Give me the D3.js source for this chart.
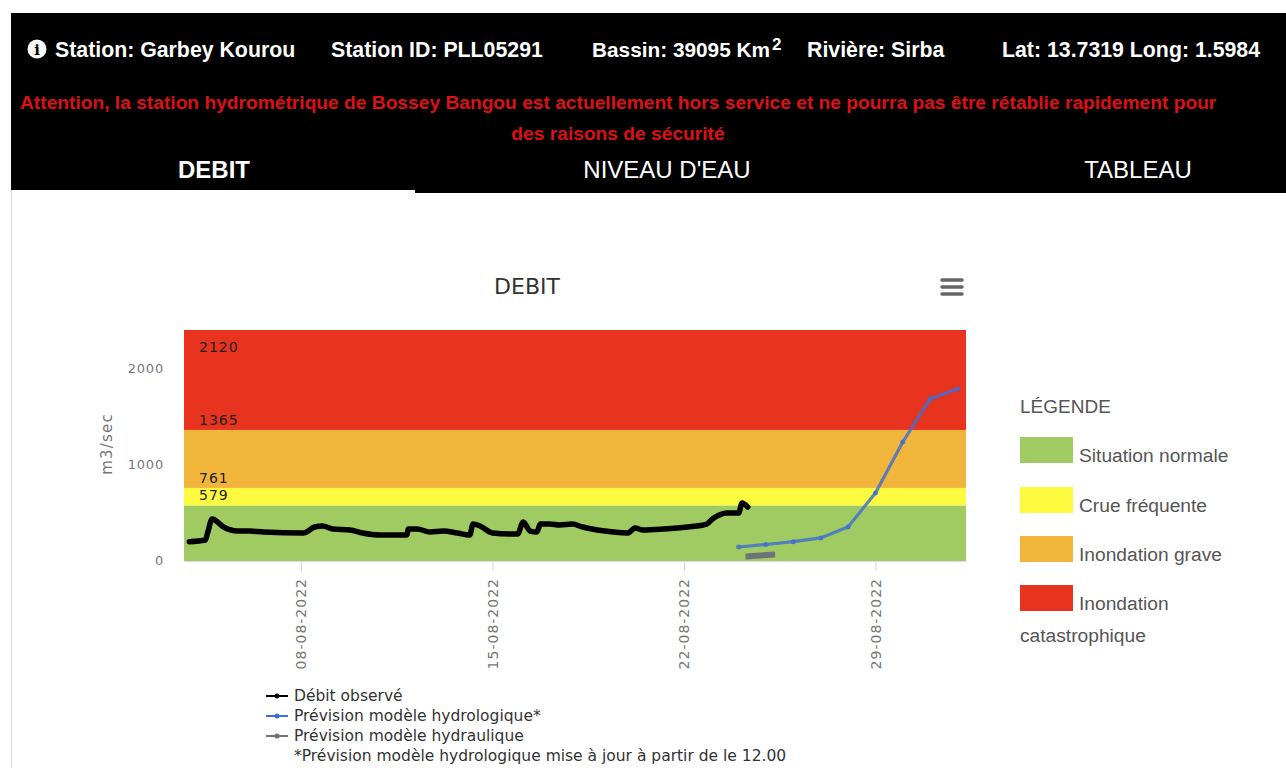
<!DOCTYPE html>
<html><head><meta charset="utf-8">
<script src="https://cdnjs.cloudflare.com/ajax/libs/d3/7.8.5/d3.min.js"></script>
<style>html,body{margin:0;padding:0;background:#fff;overflow:hidden}svg{display:block}</style>
</head><body><svg id="c" width="1286" height="768"></svg>
<script>
const thresholds=[579,761,1365,2120];
const bandColors=["#a0cb62","#fdfb40","#f2b53b","#e8331f"];
const bandNames=["Situation normale","Crue fréquente","Inondation grave","Inondation"];
const xTicks=["2022-08-08","2022-08-15","2022-08-22","2022-08-29"];
const yTicks=[0,1000,2000];
const obsTimes=["08-03T22","08-04T12","08-04T14","08-04T18","08-05T04","08-05T16","08-06T03","08-06T15","08-08T02","08-08T12","08-08T19","08-09T04","08-09T19","08-10T06","08-10T21","08-11T21","08-11T22","08-12T06","08-12T17","08-13T05","08-13T17","08-14T04","08-14T07","08-14T13","08-15T00","08-15T15","08-15T22","08-16T03","08-16T09","08-16T15","08-16T18","08-17T02","08-17T11","08-17T22","08-18T07","08-18T20","08-19T10","08-19T23","08-20T05","08-20T12","08-21T06","08-22T03","08-22T20","08-23T01","08-23T14","08-24T00","08-24T03","08-24T08"];
const obsValues=[201,219,292,437,354,312,312,302,292,354,365,333,323,292,271,271,333,333,302,312,292,271,385,365,292,281,281,406,312,302,385,385,375,385,354,323,302,292,344,323,333,354,385,437,500,500,604,562];
const hydroTimes=["08-24T00","08-25T00","08-26T00","08-27T00","08-28T00","08-29T00","08-30T00","08-31T00","09-01T00"];
const hydroValues=[146,172,201,240,354,708,1240,1688,1792];
const hydrauTimes=["08-24T06","08-25T08"];
const hydrauValues=[47,68];
const legendNames=["Débit observé","Prévision modèle hydrologique*","Prévision modèle hydraulique"];
const legendNote="*Prévision modèle hydrologique mise à jour à partir de le 12.00";
const legendColors=["#000000","#3f6fd0","#70727a"];

const parse=s=>new Date("2022-"+s+":00:00Z");
const px=d3.scaleUtc().domain([new Date("2022-08-03T17:18:00Z"),new Date("2022-09-01T07:30:00Z")]).range([184,966]);
const py=d3.scaleLinear().domain([0,2406]).range([561,330]);
const svg=d3.select("#c");
const ARIAL="'Liberation Sans',Arial,sans-serif", VERD="'DejaVu Sans',Verdana,sans-serif";

// header
svg.append("rect").attr("x",11).attr("y",13).attr("width",1275).attr("height",180).attr("fill","#000");
svg.append("rect").attr("x",11).attr("y",190).attr("width",404).attr("height",3).attr("fill","#fff");
svg.append("line").attr("x1",11.5).attr("x2",11.5).attr("y1",190).attr("y2",768).attr("stroke","#d8d8d8");
svg.append("circle").attr("cx",37).attr("cy",49).attr("r",9.5).attr("fill","#fff");
svg.append("text").attr("x",37).attr("y",55).attr("text-anchor","middle").attr("font-family","'DejaVu Serif',serif").attr("font-weight","bold").attr("font-size",15).attr("fill","#000").text("i");
const head=[["Station: Garbey Kourou",55,21.3],["Station ID: PLL05291",331,21.3],["Bassin: 39095 Km",592,20.8],["Rivière: Sirba",807,21.3],["Lat: 13.7319 Long: 1.5984",1002,21.3]];
svg.selectAll(".h").data(head).join("text").attr("x",d=>d[1]).attr("y",57).attr("font-family",ARIAL).attr("font-weight","bold").attr("font-size",d=>d[2]).attr("fill","#fff").text(d=>d[0]);
svg.append("text").attr("x",772).attr("y",50).attr("font-family",ARIAL).attr("font-weight","bold").attr("font-size",17).attr("fill","#fff").text("2");
svg.append("text").attr("x",20).attr("y",109).attr("font-family",ARIAL).attr("font-weight","bold").attr("font-size",19.2).attr("fill","#dc1015").text("Attention, la station hydrométrique de Bossey Bangou est actuellement hors service et ne pourra pas être rétablie rapidement pour");
svg.append("text").attr("x",618).attr("y",140).attr("text-anchor","middle").attr("font-family",ARIAL).attr("font-weight","bold").attr("font-size",19.2).attr("fill","#dc1015").text("des raisons de sécurité");
[["DEBIT",214,"bold"],["NIVEAU D'EAU",667,"normal"],["TABLEAU",1138,"normal"]].forEach(t=>svg.append("text").attr("x",t[1]).attr("y",178).attr("text-anchor","middle").attr("font-family",ARIAL).attr("font-weight",t[2]).attr("font-size",24).attr("fill","#fff").text(t[0]));

// title + menu
svg.append("text").attr("x",527).attr("y",294).attr("text-anchor","middle").attr("font-family",VERD).attr("font-size",22).attr("fill","#333").text("DEBIT");
[280,287,294].forEach(y=>svg.append("line").attr("x1",942).attr("x2",962).attr("y1",y).attr("y2",y).attr("stroke","#666").attr("stroke-width",3.5).attr("stroke-linecap","round"));

// bands
const edges=[0,...thresholds.slice(0,3),py.domain()[1]];
bandColors.forEach((c,i)=>svg.append("rect").attr("x",px.range()[0]).attr("width",px.range()[1]-px.range()[0]).attr("y",py(edges[i+1])).attr("height",py(edges[i])-py(edges[i+1])).attr("fill",c));
svg.selectAll(".bl").data(thresholds).join("text").attr("x",199).attr("y",d=>py(d)-5).attr("font-family",VERD).attr("font-size",14).attr("letter-spacing",1).attr("fill","#222").text(d=>d);

// axes
const ax=d3.axisBottom(px).tickValues(xTicks.map(d=>new Date(d+"T00:00:00Z"))).tickFormat(d3.utcFormat("%d-%m-%Y")).tickSize(10).tickSizeOuter(0);
const gx=svg.append("g").attr("transform","translate(0,561)").call(ax);
gx.select(".domain").attr("stroke","#d8dde0");
gx.selectAll(".tick line").attr("stroke","#d0d4d8");
gx.selectAll("text").attr("transform","rotate(-90)").attr("text-anchor","end").attr("x",-17).attr("y",0).attr("dy","0.35em").attr("font-family",VERD).attr("font-size",14).attr("letter-spacing",1).attr("fill","#777");
const ay=d3.axisLeft(py).tickValues(yTicks).tickSize(0).tickFormat(d3.format("d"));
const gy=svg.append("g").attr("transform","translate(172,-1)").call(ay);
gy.select(".domain").remove();
gy.selectAll("text").attr("x",-8).attr("font-family",VERD).attr("font-size",13).attr("letter-spacing",.8).attr("fill","#777");
svg.append("text").attr("transform","translate(112,444) rotate(-90)").attr("text-anchor","middle").attr("font-family",VERD).attr("font-size",15).attr("letter-spacing",1.2).attr("fill","#777").text("m3/sec");

// series
const line=d3.line().x(d=>px(d[0])).y(d=>py(d[1]));
const zip=(t,v)=>t.map((s,i)=>[parse(s),v[i]]);
svg.append("path").attr("d",line(zip(hydrauTimes,hydrauValues))).attr("fill","none").attr("stroke",legendColors[2]).attr("stroke-width",6);
const hyd=zip(hydroTimes,hydroValues);
svg.append("path").attr("d",line(hyd)).attr("fill","none").attr("stroke",legendColors[1]).attr("stroke-opacity",.82).attr("stroke-width",3.2);
svg.selectAll(".hp").data(hyd).join("circle").attr("cx",d=>px(d[0])).attr("cy",d=>py(d[1])).attr("r",2.5).attr("fill",legendColors[1]).attr("fill-opacity",.82);
svg.append("path").attr("d",line.curve(d3.curveMonotoneX)(zip(obsTimes,obsValues))).attr("fill","none").attr("stroke","#000").attr("stroke-width",5.5).attr("stroke-linejoin","round").attr("stroke-linecap","round");

// right legend
svg.append("text").attr("x",1020).attr("y",413).attr("font-family",ARIAL).attr("font-size",19).attr("fill","#555").text("LÉGENDE");
const swY=[437,487,536,585];
bandColors.forEach((c,i)=>{
  svg.append("rect").attr("x",1020).attr("y",swY[i]).attr("width",53).attr("height",26).attr("fill",c);
  svg.append("text").attr("x",1079).attr("y",swY[i]+25).attr("font-family",ARIAL).attr("font-size",19.2).attr("fill","#555").text(bandNames[i]);
});
svg.append("text").attr("x",1020).attr("y",642).attr("font-family",ARIAL).attr("font-size",19.2).attr("fill","#555").text("catastrophique");

// bottom legend
legendNames.forEach((n,i)=>{
  const y=696+i*20;
  svg.append("line").attr("x1",266).attr("x2",288).attr("y1",y).attr("y2",y).attr("stroke",legendColors[i]).attr("stroke-width",2);
  svg.append("circle").attr("cx",277).attr("cy",y).attr("r",2.5).attr("fill",legendColors[i]);
  svg.append("text").attr("x",294).attr("y",y+5).attr("font-family",VERD).attr("font-size",15.5).attr("fill","#333").text(n);
});
svg.append("text").attr("x",294).attr("y",761).attr("font-family",VERD).attr("font-size",15.5).attr("fill","#333").text(legendNote);
</script></body></html>
